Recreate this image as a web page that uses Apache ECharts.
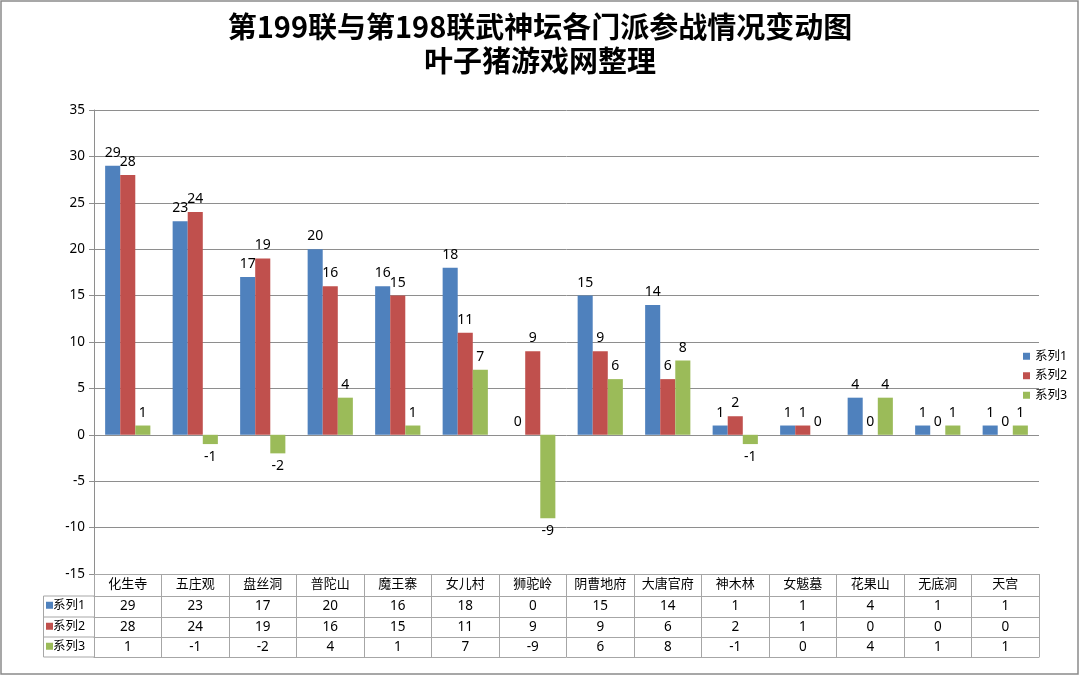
<!DOCTYPE html>
<html><head><meta charset="utf-8">
<script src="https://cdn.jsdelivr.net/npm/echarts@6/dist/echarts.min.js"></script>
<style>html,body{margin:0;padding:0;background:#fff}#c{width:1080px;height:675px}</style>
</head><body><div id="c"></div>
<script>
const categories = ['化生寺','五庄观','盘丝洞','普陀山','魔王寨','女儿村','狮驼岭','阴曹地府','大唐官府','神木林','女魃墓','花果山','无底洞','天宫'];
const seriesNames = ['系列1','系列2','系列3'];
const series1 = [29,23,17,20,16,18,0,15,14,1,1,4,1,1];
const series2 = [28,24,19,16,15,11,9,9,6,2,1,0,0,0];
const series3 = [1,-1,-2,4,1,7,-9,6,8,-1,0,4,1,1];
const yMin = -15, yMax = 35, yStep = 5;
const colors = ['#4F81BD','#C0504D','#9BBB59'];
const allSeries = [series1, series2, series3];

const FONT = '"Noto Sans", "Noto Sans CJK SC", sans-serif';
const LINE = '#8e8e8e';
const TABLE = '#a6a6a6';

const chart = echarts.init(document.getElementById('c'));

function tableAxis(offset, values, name, color, tickLen) {
  const ax = {
    type: 'category', data: categories, position: 'bottom', offset: offset,
    axisLine: {show: true, onZero: false, lineStyle: {color: TABLE, width: 1}},
    axisTick: {show: tickLen > 0, interval: 0, length: tickLen, lineStyle: {color: TABLE}},
    axisLabel: {show: !!values, interval: 0, margin: 3, fontSize: 13.5, color: '#000', fontFamily: FONT,
      formatter: (v, i) => values ? String(values[i]) : ''},
    splitLine: {show: false}
  };
  if (name) {
    ax.name = '{sq| }' + name;
    ax.nameLocation = 'start';
    ax.nameGap = 48;
    ax.nameTextStyle = {align: 'left', verticalAlign: 'top', padding: [3,0,0,0], fontSize: 12.5, color: '#000', fontFamily: FONT,
      rich: {sq: {width: 7, height: 7, backgroundColor: color, padding: 0}}};
  }
  return ax;
}

const option = {
  animation: false,
  backgroundColor: '#fff',
  title: {
    text: '第199联与第198联武神坛各门派参战情况变动图\n叶子猪游戏网整理',
    left: 'center', top: 5,
    textStyle: {fontSize: 29, fontWeight: 'bold', color: '#000', lineHeight: 34, fontFamily: '"Noto Sans CJK SC", sans-serif'}
  },
  legend: {
    orient: 'vertical', left: 1018, top: 345, itemWidth: 7, itemHeight: 7, itemGap: 7,
    icon: 'rect',
    textStyle: {fontSize: 12.5, color: '#000', fontFamily: FONT},
    data: seriesNames
  },
  grid: {left: 94, right: 41, top: 110, bottom: 101, containLabel: false},
  xAxis: [
    {
      type: 'category', data: categories, position: 'bottom',
      axisLine: {show: true, onZero: false, lineStyle: {color: TABLE}},
      axisTick: {show: true, interval: 0, length: 22, lineStyle: {color: TABLE}},
      axisLabel: {interval: 0, margin: 4, fontSize: 13, color: '#000', fontFamily: FONT}
    },
    tableAxis(22, series1, seriesNames[0], colors[0], 21),
    tableAxis(43, series2, seriesNames[1], colors[1], 20),
    tableAxis(63, series3, seriesNames[2], colors[2], 20),
    tableAxis(83, null, null, null, 0)
  ],
  yAxis: {
    type: 'value', min: yMin, max: yMax, interval: yStep,
    axisLine: {show: true, lineStyle: {color: LINE}},
    axisTick: {show: true, length: 5, lineStyle: {color: LINE}},
    axisLabel: {fontSize: 13.5, color: '#000', margin: 9, fontFamily: FONT},
    splitLine: {show: true, lineStyle: {color: LINE, width: 1}}
  },
  series: allSeries.map((arr, k) => ({
    name: seriesNames[k], type: 'bar', xAxisIndex: 0,
    barGap: '0%', barCategoryGap: '33%',
    itemStyle: {color: colors[k]},
    label: {show: true, fontSize: 14, color: '#000', distance: 6, fontFamily: FONT},
    data: arr.map(v => ({value: v, label: {position: v < 0 ? 'bottom' : 'top'}}))
  })),
  graphic: [
    {type: 'rect', shape: {x: 1, y: 1, width: 1077, height: 673}, style: {fill: 'none', stroke: '#8a8a8a', lineWidth: 1.5}, silent: true, z: 100},
    {type: 'polyline', shape: {points: [[94,596],[43.5,596],[43.5,657],[94,657]]}, style: {fill: 'none', stroke: TABLE, lineWidth: 1}, silent: true},
    {type: 'line', shape: {x1: 43.5, y1: 617, x2: 94, y2: 617}, style: {stroke: TABLE, lineWidth: 1}, silent: true},
    {type: 'line', shape: {x1: 43.5, y1: 637, x2: 94, y2: 637}, style: {stroke: TABLE, lineWidth: 1}, silent: true}
  ]
};
chart.setOption(option);
</script>
</body></html>
